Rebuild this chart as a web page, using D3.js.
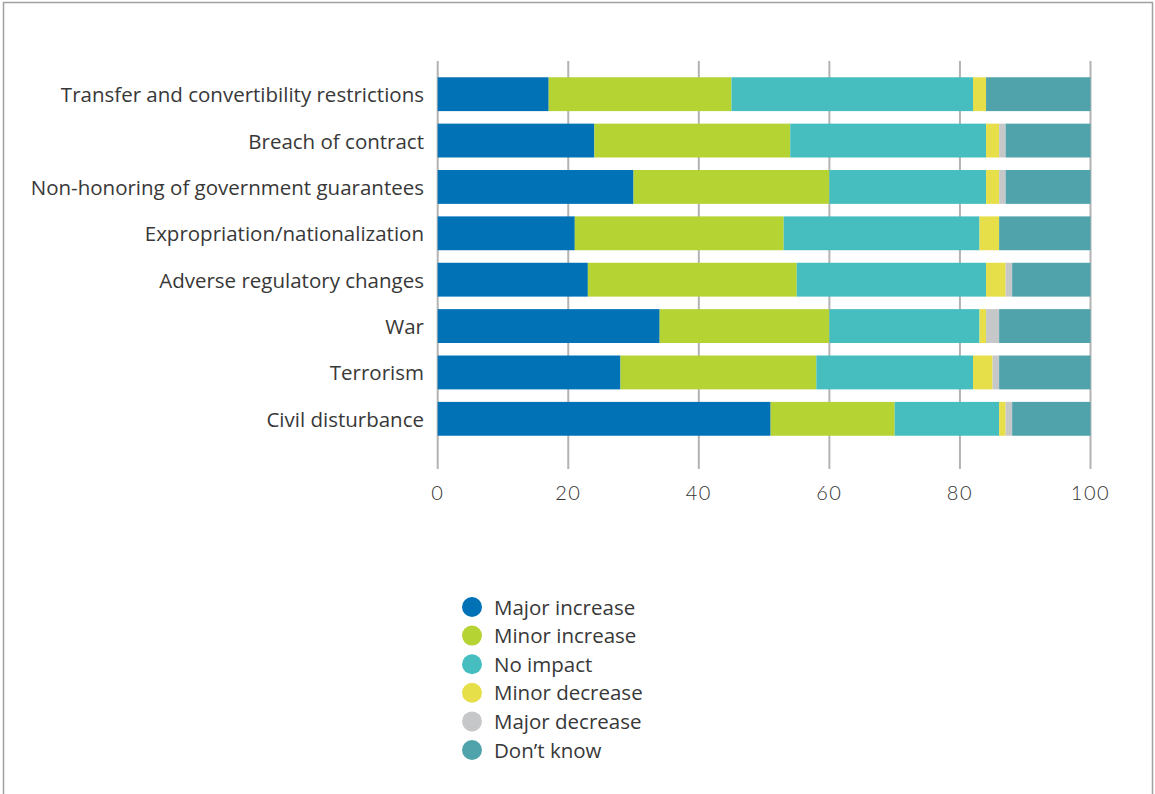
<!DOCTYPE html>
<html><head><meta charset="utf-8">
<script src="https://cdn.jsdelivr.net/npm/d3@7"></script>
<style>
body{margin:0;background:#fff;}
svg{display:block;}
</style></head>
<body>
<svg id="chart" width="1155" height="794"></svg>
<script>
const categories = [
  "Transfer and convertibility restrictions",
  "Breach of contract",
  "Non-honoring of government guarantees",
  "Expropriation/nationalization",
  "Adverse regulatory changes",
  "War",
  "Terrorism",
  "Civil disturbance"
];
const seriesNames = ["Major increase","Minor increase","No impact","Minor decrease","Major decrease","Don\u2019t know"];
const majorIncrease = [17, 24, 30, 21, 23, 34, 28, 51];
const minorIncrease = [28, 30, 30, 32, 32, 26, 30, 19];
const noImpact      = [37, 30, 24, 30, 29, 23, 24, 16];
const minorDecrease = [2, 2, 2, 3, 3, 1, 3, 1];
const majorDecrease = [0, 1, 1, 0, 1, 2, 1, 1];
const dontKnow      = [16, 13, 13, 14, 12, 14, 14, 12];
const tickValues = [0, 20, 40, 60, 80, 100];
const colors = ["#0172b6","#b6d334","#46bec0","#e6df4a","#c6c7c9","#50a3ab"];

const seriesValues = [majorIncrease, minorIncrease, noImpact, minorDecrease, majorDecrease, dontKnow];
const rows = categories.map((c, i) => {
  const r = {cat: c};
  seriesNames.forEach((s, j) => r[s] = seriesValues[j][i]);
  return r;
});

const svg = d3.select("#chart");

// frame
svg.append("path")
  .attr("d", "M3.5,800 V2.5 H1152.5 V800")
  .attr("fill", "none").attr("stroke", "#a0a0a0").attr("stroke-width", 1.5);

const x = d3.scaleLinear().domain([0, 100]).range([437.7, 1090.5]);
const y = d3.scaleBand().domain(categories).range([71, 442]).paddingInner(0.27).paddingOuter(0.135);

// gridlines
svg.append("g").selectAll("line").data(tickValues).join("line")
  .attr("x1", d => x(d)).attr("x2", d => x(d))
  .attr("y1", 61).attr("y2", 469)
  .attr("stroke", "#b3b3b3").attr("stroke-width", 2);

// tick labels
svg.append("g").selectAll("text").data(tickValues).join("text")
  .attr("x", d => x(d)).attr("y", 500)
  .attr("text-anchor", "middle")
  .attr("font-family", "Lato, sans-serif").attr("font-weight", 300)
  .attr("font-size", 20).attr("letter-spacing", 1.5).attr("fill", "#333")
  .text(d => d);

const stack = d3.stack().keys(seriesNames)(rows);

svg.append("g").selectAll("g").data(stack).join("g")
  .attr("fill", (d, i) => colors[i])
  .selectAll("rect").data(d => d).join("rect")
  .attr("x", d => x(d[0]))
  .attr("width", d => Math.max(0, x(d[1]) - x(d[0])))
  .attr("y", d => y(d.data.cat))
  .attr("height", y.bandwidth());

// category labels
svg.append("g").selectAll("text").data(categories).join("text")
  .attr("x", 424).attr("y", d => y(d) + y.bandwidth() / 2 + 8)
  .attr("text-anchor", "end")
  .attr("font-family", "'Open Sans', sans-serif")
  .attr("font-size", 20.5).attr("fill", "#383838")
  .text(d => d);

// legend
const lg = svg.append("g");
const legendY = d3.scalePoint().domain(seriesNames).range([607, 750]);
lg.selectAll("circle").data(seriesNames).join("circle")
  .attr("cx", 472).attr("cy", d => legendY(d)).attr("r", 10)
  .attr("fill", (d, i) => colors[i]);
lg.selectAll("text").data(seriesNames).join("text")
  .attr("x", 494).attr("y", d => legendY(d) + 7.5)
  .attr("font-family", "'Open Sans', sans-serif")
  .attr("font-size", 20.5).attr("fill", "#383838")
  .text(d => d);
</script>
</body></html>
